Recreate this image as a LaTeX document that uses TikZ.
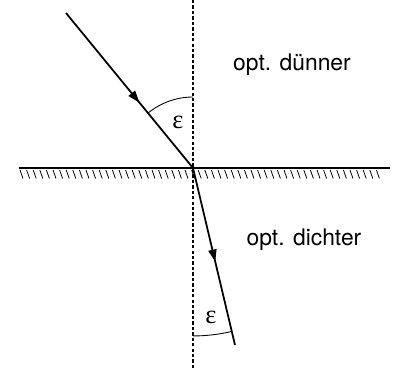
\documentclass[tikz,border=0pt]{standalone}
\usepackage{fontspec}
\setmainfont{TeX Gyre Heros}
\newfontfamily\greekfont{Liberation Serif}
\usetikzlibrary{arrows.meta, decorations.markings, positioning}

\begin{document}
\begin{tikzpicture}[
    x=0.02cm, y=0.02cm,
    font=\fontsize{13}{15}\selectfont,
    % Stile
    ray/.style={
        line width=1pt,
        postaction=decorate
    },
    ray arrow/.style={
        decoration={markings,
            mark=at position #1 with {\arrow{Triangle[length=7pt, width=4.6pt]}}}
    },
    normal/.style={
        line width=0.8pt,
        dash pattern=on 1.9pt off 1.2pt
    },
    surface/.style={line width=1pt},
    hatch/.style={line width=0.45pt},
    anglearc/.style={line width=0.5pt},
    anglelabel/.style={font=\greekfont\fontsize{15}{15}\selectfont}
]
    \useasboundingbox (0,0) rectangle (393,368);

    % --- PUNKTE ---
    \coordinate (O) at (193,200);
    \coordinate (src) at (66,355);
    \coordinate (dst) at (235,23);
    \coordinate (ntop) at (193,368);
    \coordinate (nbot) at (193,0);
    \coordinate (sleft) at (19,200);
    \coordinate (sright) at (390,200);

    % --- GRENZFLAECHE ---
    \foreach \x in {20,26.6,...,380}
        \draw[hatch] (\x,198) -- ++(3,-8.5);
    \draw[surface] (sleft) -- (sright);

    % Lot
    \draw[normal] (ntop) -- (nbot);

    % --- STRAHLEN ---
    \draw[ray, ray arrow=0.58] (src) -- (O);
    \draw[ray, ray arrow=0.53] (O) -- (dst);

    % Winkel
    \draw[anglearc] ([shift={(90:1.42cm)}]O) arc[start angle=90, end angle=129.3, radius=1.42cm];
    \draw[anglearc] ([shift={(-90:3.36cm)}]O) arc[start angle=-90, end angle=-76.65, radius=3.36cm];

    % --- BESCHRIFTUNG ---
    \node[anglelabel] (eps1) at (178,246) {ε};
    \node[anglelabel] (eps2) at (211,51) {ε};
    \node (thin) at (292,303) {opt. dünner};
    \node (dense) at (304,128) {opt. dichter};

\end{tikzpicture}
\end{document}
